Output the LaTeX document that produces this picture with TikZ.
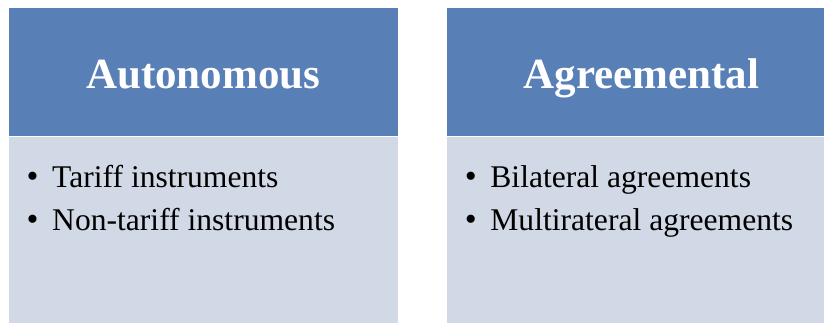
\documentclass[tikz,border=0pt]{standalone}
\usepackage{fontspec}
\setmainfont{Liberation Serif}
\usetikzlibrary{positioning}
\definecolor{headblue}{RGB}{89,127,183}
\definecolor{panelgray}{RGB}{209,217,230}
\tikzstyle{header} = [rectangle, fill=headblue, minimum width=389pt, minimum height=128.5pt, inner sep=0pt, text height=40pt, text depth=7.5pt, text=white, font=\fontsize{43}{50}\selectfont\bfseries]
\tikzstyle{panel} = [rectangle, fill=panelgray, minimum width=389pt, minimum height=186pt, inner sep=0pt]
\tikzstyle{entry} = [anchor=base west, inner sep=0pt, font=\fontsize{31.6}{36}\selectfont]
\tikzstyle{bulletmark} = [anchor=base, inner sep=0pt, font=\fontsize{34}{36}\selectfont]

\begin{document}
\begin{tikzpicture}
\clip (0pt,0pt) rectangle (824pt,-322pt);

\node [header, anchor=north west] (auto_head) at (8.5pt,-7.5pt) {Autonomous};
\node [panel, below=0pt of auto_head.south west, anchor=north west] (auto_body) {};
\node [header, anchor=north west] (agree_head) at (446.7pt,-7.5pt) {Agreemental};
\node [panel, below=0pt of agree_head.south west, anchor=north west] (agree_body) {};

\node [entry] (tariff) at ([xshift=43.5pt, yshift=-51.5pt]auto_body.north west) {Tariff instruments};
\node [entry] (nontariff) at ([yshift=-43pt]tariff.base west) {Non-tariff instruments};
\node [entry] (bilateral) at ([xshift=43.5pt, yshift=-51.5pt]agree_body.north west) {Bilateral agreements};
\node [entry] (multilateral) at ([yshift=-43pt]bilateral.base west) {Multirateral agreements};

\node [bulletmark] (b1) at ([xshift=-19.5pt]tariff.base west) {\textbullet};
\node [bulletmark] (b2) at ([xshift=-19.5pt]nontariff.base west) {\textbullet};
\node [bulletmark] (b3) at ([xshift=-19.5pt]bilateral.base west) {\textbullet};
\node [bulletmark] (b4) at ([xshift=-19.5pt]multilateral.base west) {\textbullet};

\end{tikzpicture}
\end{document}
